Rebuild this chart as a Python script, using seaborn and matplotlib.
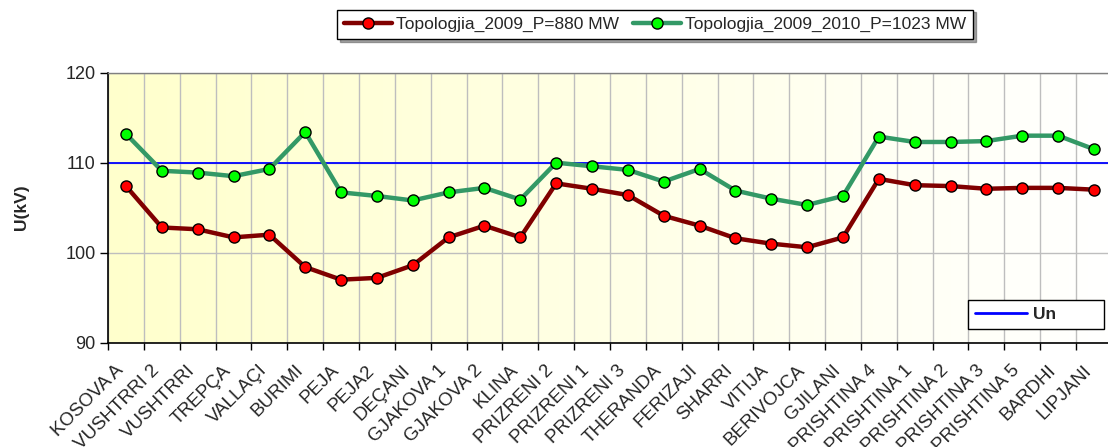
import numpy as np
import pandas as pd
import seaborn as sns
import matplotlib.pyplot as plt
import matplotlib.transforms as mtransforms
from matplotlib.lines import Line2D
from matplotlib.colors import LinearSegmentedColormap

stations = ["KOSOVA A", "VUSHTRRI 2", "VUSHTRRI", "TREPÇA", "VALLAÇI", "BURIMI",
            "PEJA", "PEJA2", "DEÇANI", "GJAKOVA 1", "GJAKOVA 2", "KLINA",
            "PRIZRENI 2", "PRIZRENI 1", "PRIZRENI 3", "THERANDA", "FERIZAJI",
            "SHARRI", "VITIJA", "BERIVOJCA", "GJILANI", "PRISHTINA 4",
            "PRISHTINA 1", "PRISHTINA 2", "PRISHTINA 3", "PRISHTINA 5",
            "BARDHI", "LIPJANI"]

u_2009 = [107.4, 102.8, 102.6, 101.7, 102.0, 98.4, 97.0, 97.2, 98.6, 101.7,
          103.0, 101.7, 107.7, 107.1, 106.4, 104.1, 103.0, 101.6, 101.0, 100.6,
          101.7, 108.2, 107.5, 107.4, 107.1, 107.2, 107.2, 107.0]

u_2009_2010 = [113.2, 109.1, 108.9, 108.5, 109.3, 113.4, 106.7, 106.3, 105.8,
               106.7, 107.2, 105.9, 110.0, 109.6, 109.2, 107.9, 109.3, 106.9,
               106.0, 105.3, 106.3, 112.9, 112.3, 112.3, 112.4, 113.0, 113.0,
               111.5]

u_nominal = 110

label_2009 = "Topologjia_2009_P=880 MW"
label_2010 = "Topologjia_2009_2010_P=1023 MW"

df = pd.DataFrame({"pos": np.arange(len(stations)),
                   "station": stations,
                   "u1": u_2009,
                   "u2": u_2009_2010})

sns.set_style("white")
plt.rcParams['font.family'] = ['Liberation Sans', 'DejaVu Sans']

fig = plt.figure(figsize=(11.08, 4.47), dpi=100)
ax = fig.add_axes([0.0975, 0.2334, 0.906, 0.604])

# yellow -> white gradient background
cmap = LinearSegmentedColormap.from_list("bg", ["#FFFFCC", "#FFFFFF"])
grad = np.linspace(0, 1, 256).reshape(1, -1)
ax.imshow(grad, cmap=cmap, aspect='auto', extent=[0, 1, 0, 1],
          transform=ax.transAxes, zorder=0)

ax.axhline(u_nominal, color="#0000FF", lw=1.3, zorder=2)

red_style = dict(color="#800000", lw=3.2, marker='o', markersize=8,
                 markerfacecolor="#FF0000", markeredgecolor="black",
                 markeredgewidth=1)
green_style = dict(color="#339966", lw=3.2, marker='o', markersize=8,
                   markerfacecolor="#00FF00", markeredgecolor="black",
                   markeredgewidth=1)

sns.lineplot(data=df, x="pos", y="u1", ax=ax, zorder=3, **red_style)
sns.lineplot(data=df, x="pos", y="u2", ax=ax, zorder=3, **green_style)

ax.set_xlim(-0.5, len(stations) - 0.5)
ax.set_ylim(90, 120)
ax.set_yticks([90, 100, 110, 120])

# labels at category centres, ticks + grid at boundaries
ax.set_xticks(df["pos"])
ax.set_xticks(np.arange(len(stations) + 1) - 0.5, minor=True)
ax.tick_params(axis='x', which='major', length=0, pad=8)
ax.tick_params(axis='x', which='minor', length=5, width=1, color='black',
               direction='out', bottom=True)
ax.tick_params(axis='y', length=6, width=1, color='black', direction='out',
               left=True, labelsize=13, pad=3)
ax.set_xticklabels(stations, rotation=45, ha='right', rotation_mode='anchor',
                   fontsize=13.5)
shift = mtransforms.ScaledTranslation(-0.11, -0.08, fig.dpi_scale_trans)
for lab in ax.get_xticklabels():
    lab.set_transform(lab.get_transform() + shift)

ax.set_axisbelow(True)
ax.grid(True, which='minor', axis='x', color="#BEBEBE", lw=1)
ax.grid(True, which='major', axis='y', color="#BEBEBE", lw=1)

ax.set_xlabel("")
ax.set_ylabel("U(kV)", fontsize=12.5, fontweight='bold', labelpad=26)

for side in ['left', 'bottom']:
    ax.spines[side].set_color('black')
    ax.spines[side].set_linewidth(1.2)
for side in ['top', 'right']:
    ax.spines[side].set_color('#808080')
    ax.spines[side].set_linewidth(1)

handles = [Line2D([], [], **red_style), Line2D([], [], **green_style)]
leg = fig.legend(handles, [label_2009, label_2010], loc='center',
                 bbox_to_anchor=(0.591, 0.946), ncol=2, frameon=True,
                 fancybox=False, shadow=True, fontsize=12.5,
                 handlelength=2.8, handletextpad=0.2, columnspacing=0.8,
                 borderpad=0.4)
leg.get_frame().set_edgecolor('black')
leg.get_frame().set_linewidth(1)

un_leg = ax.legend([Line2D([], [], color="#0000FF", lw=2)], ["Un"],
                   loc='lower left', bbox_to_anchor=(0.857, 0.051, 0.135, 0.118),
                   mode='expand', borderaxespad=0, fancybox=False,
                   prop={'weight': 'bold', 'size': 12.5}, handlelength=3,
                   handletextpad=0.3)
un_leg.get_frame().set_edgecolor('black')
un_leg.get_frame().set_linewidth(1)
un_leg.get_frame().set_alpha(1)

fig.savefig("out.png", dpi=100)
